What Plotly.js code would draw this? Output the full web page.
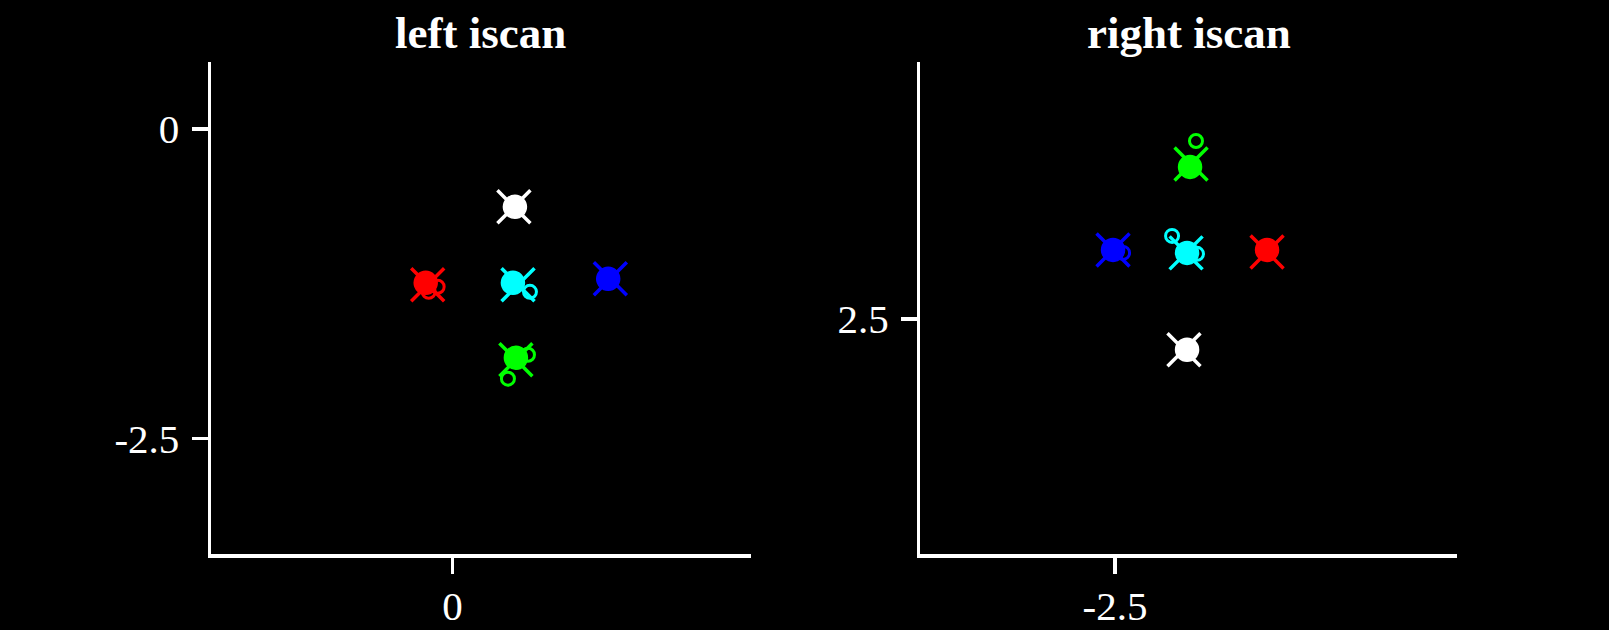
<!DOCTYPE html>
<html>
<head>
<meta charset="utf-8">
<script src="https://cdn.plot.ly/plotly-3.0.1.min.js"></script>
<style>html,body{margin:0;padding:0;background:#000;}#chart{width:1609px;height:630px;}</style>
</head>
<body>
<div id="chart"></div>
<script>
// Target colours (same order in both panels)
const colors = ['#ffffff', '#ff0000', '#00ffff', '#0000ff', '#00ff00'];

// Left iscan: target positions (x markers) and gaze-sample centres
const leftTargetX = [0.494, -0.199, 0.527, 1.269, 0.510];
const leftTargetY = [-0.629, -1.258, -1.258, -1.210, -1.863];
const leftGazeX   = [0.502, -0.215, 0.486, 1.252, 0.510];
const leftGazeY   = [-0.629, -1.242, -1.242, -1.210, -1.847];
// small gaze loops (open rings)
const leftLoopX = [-0.119, -0.191, 0.623, 0.607, 0.446];
const leftLoopY = [-1.274, -1.315, -1.315, -1.823, -2.016];
const leftLoopC = ['#ff0000', '#ff0000', '#00ffff', '#00ff00', '#00ff00'];

// Right iscan
const rightTargetX = [-1.944, -1.274, -1.927, -2.516, -1.887];
const rightTargetY = [2.250, 3.040, 3.032, 3.056, 3.750];
const rightGazeX   = [-1.919, -1.274, -1.919, -2.516, -1.895];
const rightGazeY   = [2.250, 3.056, 3.032, 3.056, 3.726];
const rightLoopX = [-1.847, -2.435, -2.040, -1.839];
const rightLoopY = [3.935, 3.032, 3.169, 3.024];
const rightLoopC = ['#00ff00', '#0000ff', '#00ffff', '#00ffff'];

// Tick values
const leftXTicks = [0], leftYTicks = [0, -2.5];
const rightXTicks = [-2.5], rightYTicks = [2.5];

const FONT = 'Liberation Serif, Times New Roman, serif';

function panel(tx, ty, gx, gy, lx, ly, lc, xa, ya) {
  return [
    {x: gx, y: gy, xaxis: xa, yaxis: ya, type: 'scatter', mode: 'markers', hoverinfo: 'skip',
     marker: {symbol: 'circle', size: 23, color: colors, line: {width: 1.5, color: colors}}},
    {x: lx, y: ly, xaxis: xa, yaxis: ya, type: 'scatter', mode: 'markers', hoverinfo: 'skip',
     marker: {symbol: 'circle-open', size: 13, line: {width: 3, color: lc}, color: lc}},
    {x: tx, y: ty, xaxis: xa, yaxis: ya, type: 'scatter', mode: 'markers', hoverinfo: 'skip',
     marker: {symbol: 'x-thin-open', size: 33, line: {width: 3.5, color: colors}, color: colors}}
  ];
}

const data = [].concat(
  panel(leftTargetX, leftTargetY, leftGazeX, leftGazeY, leftLoopX, leftLoopY, leftLoopC, 'x', 'y'),
  panel(rightTargetX, rightTargetY, rightGazeX, rightGazeY, rightLoopX, rightLoopY, rightLoopC, 'x2', 'y2')
);

function axis(extra) {
  return Object.assign({
    showgrid: false, zeroline: false, showline: true, linecolor: '#ffffff', linewidth: 3.5,
    ticks: 'outside', ticklen: 16, tickwidth: 3.5, tickcolor: '#ffffff',
    tickfont: {family: FONT, size: 41, color: '#ffffff'}, tickmode: 'array', fixedrange: true
  }, extra);
}

const layout = {
  width: 1609, height: 630,
  paper_bgcolor: '#000000', plot_bgcolor: '#000000',
  showlegend: false,
  margin: {l: 211, r: 152, t: 62, b: 75.5},
  xaxis:  axis({domain: [0, 0.4332], range: [-1.941, 2.398], tickvals: leftXTicks, ticktext: ['0'], anchor: 'y', ticklabelstandoff: -3}),
  yaxis:  axis({domain: [0, 1], range: [-3.431, 0.540], tickvals: leftYTicks, ticktext: ['0', '-2.5'], anchor: 'x', ticklabelstandoff: 4}),
  xaxis2: axis({domain: [0.5694, 1], range: [-4.069, 0.258], tickvals: rightXTicks, ticktext: ['-2.5'], anchor: 'y2', ticklabelstandoff: -3}),
  yaxis2: axis({domain: [0, 1], range: [0.601, 4.573], tickvals: rightYTicks, ticktext: ['2.5'], anchor: 'x2', ticklabelstandoff: 4}),
  annotations: [
    {text: '<b>left iscan</b>', xref: 'paper', yref: 'paper', x: 0.2166, y: 1, xanchor: 'center', yanchor: 'bottom',
     yshift: 2, showarrow: false, font: {family: FONT, size: 45, color: '#ffffff'}},
    {text: '<b>right iscan</b>', xref: 'paper', yref: 'paper', x: 0.7847, y: 1, xanchor: 'center', yanchor: 'bottom',
     yshift: 2, showarrow: false, font: {family: FONT, size: 45, color: '#ffffff'}}
  ]
};

Plotly.newPlot('chart', data, layout, {displayModeBar: false, staticPlot: true});
</script>
</body>
</html>
